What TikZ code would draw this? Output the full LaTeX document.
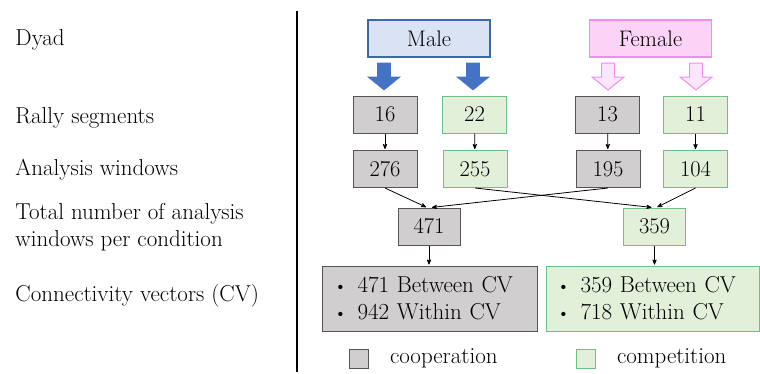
\documentclass[tikz,border=0pt]{standalone}
\usetikzlibrary{arrows,positioning}

\definecolor{malefill}{HTML}{DAE3F3}
\definecolor{maleline}{HTML}{3F68A8}
\definecolor{malearrow}{HTML}{4472C4}
\definecolor{femalefill}{HTML}{FBD3F7}
\definecolor{femaleline}{HTML}{EE8FEC}
\definecolor{femalearrow}{HTML}{FCE6FB}
\definecolor{coopfill}{HTML}{D0CECE}
\definecolor{coopline}{HTML}{555555}
\definecolor{compfill}{HTML}{E2F0D9}
\definecolor{compline}{HTML}{6CC088}

\newcommand{\bigtext}{\fontsize{23}{27}\selectfont}
\newcommand{\numtext}{\fontsize{22.5}{27}\selectfont}
\newcommand{\cvbullet}{\makebox[24pt][l]{\raisebox{0.5pt}{\fontsize{19}{19}\selectfont\textbullet}}}

\begin{document}
\begin{tikzpicture}[x=1pt,y=-1pt,>=stealth',shorten >=1pt,
                    line width=1pt,
                    coop node/.style={rectangle,draw=coopline,fill=coopfill,
                      minimum width=64pt,minimum height=37pt,inner sep=0pt,font=\numtext},
                    comp node/.style={coop node,draw=compline,fill=compfill},
                    dyad node/.style={rectangle,line width=1.5pt,minimum width=122pt,
                      minimum height=37pt,font=\numtext},
                    row label/.style={anchor=west,align=left,inner sep=0pt,font=\bigtext},
                    blockarrow/.pic={
                      \path[pic actions] (-6.5,0) -- (6.5,0) -- (6.5,14) -- (16,14)
                        -- (0,27) -- (-16,14) -- (-6.5,14) -- cycle;}]
\useasboundingbox (0,0) rectangle (760,373);

% row labels
\node[row label] (l1) at (15,40) {Dyad};
\node[row label] (l2) at (15,118) {Rally segments};
\node[row label] (l3) at (15,170) {Analysis windows};
\node[row label] (l4) at (15,227) {Total number of analysis\\windows per condition};
\node[row label] (l5) at (15,296) {Connectivity vectors (CV)};

\draw[line width=1.3pt] (297,11) -- (297,373);

% dyad
\node[dyad node,draw=maleline,fill=malefill] (male) at (429,38.5) {Male};
\node[dyad node,draw=femaleline,fill=femalefill] (female) at (650.5,38.5) {Female};

\pic[fill=malearrow,draw=malearrow,line width=0.6pt] at (384,63) {blockarrow};
\pic[fill=malearrow,draw=malearrow,line width=0.6pt] at (473,63) {blockarrow};
\pic[fill=femalearrow,draw=femaleline,line width=1pt] at (608,63) {blockarrow};
\pic[fill=femalearrow,draw=femaleline,line width=1pt] at (696,63) {blockarrow};

% rally segments
\node[coop node] (16) at (385,114.5) {16};
\node[comp node] (22) at (474.5,114.5) {22};
\node[coop node] (13) at (607.5,114.5) {13};
\node[comp node] (11) at (695.5,114.5) {11};

% analysis windows
\node[coop node] (276) at (385,169) {276};
\node[comp node] (255) at (475,169) {255};
\node[coop node] (195) at (608,169) {195};
\node[comp node] (104) at (695.5,169) {104};

% totals
\node[coop node,minimum width=62pt] (471) at (429,226.5) {471};
\node[comp node,minimum width=62pt] (359) at (654.5,226.5) {359};

% connectivity vectors
\node[coop node,minimum width=215pt,minimum height=65pt,align=left,text width=192pt,font=\bigtext]
  (cvcoop) at (429.5,298.5)
  {\cvbullet 471 Between CV\\\cvbullet 942 Within CV};
\node[comp node,minimum width=213pt,minimum height=65pt,align=left,text width=192pt,font=\bigtext]
  (cvcomp) at (652.5,298.5)
  {\cvbullet 359 Between CV\\\cvbullet 718 Within CV};

\path[->,line width=0.8pt]
  (16) edge (276)
  (22) edge (255)
  (13) edge (195)
  (11) edge (104)
  (276.south) edge ([xshift=-2pt]471.north)
  (195.south) edge ([xshift=2pt]471.north)
  (255.south) edge ([xshift=-2pt]359.north)
  (104.south) edge ([xshift=2pt]359.north)
  (471.south) edge (471.south |- cvcoop.north)
  (359.south) edge (359.south |- cvcomp.north);

% legend
\node[coop node,minimum width=19pt,minimum height=19pt] (keycoop) at (358.5,358.5) {};
\node[right=21pt of keycoop,font=\bigtext,inner sep=0pt] (keycooptext) {cooperation};
\node[comp node,minimum width=19pt,minimum height=19pt] (keycomp) at (585.5,358.5) {};
\node[right=21pt of keycomp,font=\bigtext,inner sep=0pt] (keycomptext) {competition};

\end{tikzpicture}
\end{document}
